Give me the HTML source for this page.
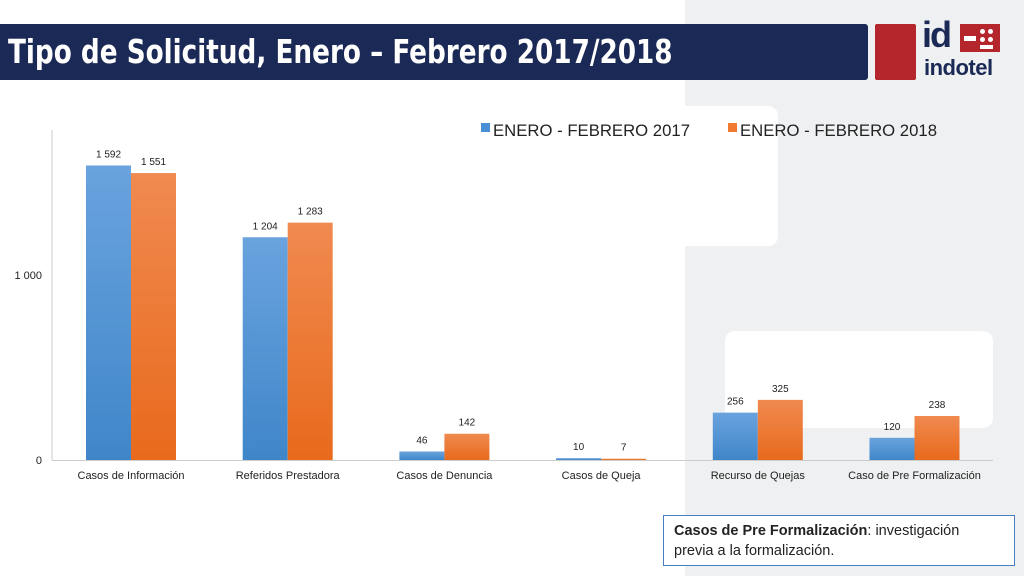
<!DOCTYPE html>
<html><head><meta charset="utf-8"><style>
body{margin:0;width:1024px;height:576px;overflow:hidden;background:#fff;font-family:"Liberation Sans","DejaVu Sans",sans-serif;position:relative}
.abs{position:absolute}
</style></head><body>
<div class="abs" style="left:685px;top:0;width:339px;height:576px;background:#eff0f1"></div>
<div class="abs" style="left:560px;top:106px;width:218px;height:140px;background:#fff;border-radius:10px"></div>
<div class="abs" style="left:725px;top:331px;width:268px;height:97px;background:#fff;border-radius:10px"></div>
<div class="abs" style="left:0px;top:106px;width:685px;height:470px;background:#fff"></div>
<div class="abs" style="left:0;top:24px;width:868px;height:56px;background:#1b2956;border-radius:0 3px 3px 0"></div>
<div class="abs" style="left:8px;top:32px;color:#fff;font-size:33px;font-weight:bold;font-family:'DejaVu Sans Condensed','Liberation Sans',sans-serif;transform:scaleX(0.885);transform-origin:0 0;white-space:nowrap">Tipo de Solicitud, Enero – Febrero 2017/2018</div>
<div class="abs" style="left:875px;top:24px;width:41px;height:56px;background:#b5252c;border-radius:2px"></div>
<div class="abs" style="left:922px;top:14px;color:#1b2956;font-size:36px;font-weight:bold;letter-spacing:-2px">id</div>
<div class="abs" style="left:960px;top:24px;width:40px;height:28px;background:#b5252c">
<div style="position:absolute;left:4px;top:12px;width:12px;height:5px;background:#fff"></div>
<div style="position:absolute;left:20px;top:5px;width:5px;height:5px;background:#fff;border-radius:50%"></div>
<div style="position:absolute;left:28px;top:5px;width:5px;height:5px;background:#fff;border-radius:50%"></div>
<div style="position:absolute;left:20px;top:13px;width:5px;height:5px;background:#fff;border-radius:50%"></div>
<div style="position:absolute;left:28px;top:13px;width:5px;height:5px;background:#fff;border-radius:50%"></div>
<div style="position:absolute;left:20px;top:21px;width:13px;height:4px;background:#fff"></div>
</div>
<div class="abs" style="left:924px;top:55px;color:#1b2956;font-size:22px;font-weight:bold;letter-spacing:-0.5px">indotel</div>
<svg class="abs" style="left:0;top:0" width="1024" height="576" id="chart"></svg>
<div class="abs" style="left:663px;top:515px;width:352px;height:51px;border:1px solid #4a7ec3;background:#fff;box-sizing:border-box;padding:5px 10px;font-size:14.5px;line-height:20px;color:#222;white-space:nowrap"><b>Casos de Pre Formalización</b>: investigación<br>previa a la formalización.</div>
<script>
const categories=["Casos de Información","Referidos Prestadora","Casos de Denuncia","Casos de Queja","Recurso de Quejas","Caso de Pre Formalización"];
const series2017=[1592,1204,46,10,256,120];
const series2018=[1551,1283,142,7,325,238];
const labels2017=["1 592","1 204","46","10","256","120"];
const labels2018=["1 551","1 283","142","7","325","238"];
const yTicks=[0,1000];
const yTickLabels=["0","1 000"];
const svg=document.getElementById('chart');const NS='http://www.w3.org/2000/svg';
function y(v){return 460-v*0.185}
function x(i){return 131+i*156.7}
function mk(t,a){const e=document.createElementNS(NS,t);for(const k in a)e.setAttribute(k,a[k]);svg.appendChild(e);return e}
const defs=mk('defs',{});
defs.innerHTML='<linearGradient id="gb" x1="0" y1="0" x2="0" y2="1"><stop offset="0" stop-color="#6aa3de"/><stop offset="1" stop-color="#3f86c9"/></linearGradient><linearGradient id="go" x1="0" y1="0" x2="0" y2="1"><stop offset="0" stop-color="#f08a50"/><stop offset="1" stop-color="#e86a1c"/></linearGradient>';
let ax=mk('line',{x1:52,y1:130,x2:52,y2:460,stroke:'#ccc'});

let bx=mk('line',{x1:52,y1:460.5,x2:993,y2:460.5,stroke:'#ccc'});

yTicks.forEach((t,i)=>{const e=mk('text',{x:42,y:y(t)+4,'text-anchor':'end','font-size':11,fill:'#222'});e.textContent=yTickLabels[i];
});
categories.forEach((c,i)=>{
 const cx=x(i);
 const b=mk('rect',{x:cx-45,y:y(series2017[i]),width:45,height:series2017[i]*0.185,fill:'url(#gb)'});
 
 const o=mk('rect',{x:cx,y:y(series2018[i]),width:45,height:series2018[i]*0.185,fill:'url(#go)'});
 
 const l1=mk('text',{x:cx-22.5,y:y(series2017[i])-8,'text-anchor':'middle','font-size':10,fill:'#222'});l1.textContent=labels2017[i];
 
 const l2=mk('text',{x:cx+22.5,y:y(series2018[i])-8,'text-anchor':'middle','font-size':10,fill:'#222'});l2.textContent=labels2018[i];
 
 const ct=mk('text',{x:cx,y:479,'text-anchor':'middle','font-size':11,fill:'#222'});ct.textContent=c;
 
});
const lg=[["ENERO - FEBRERO 2017",'#4a8fd6',481],["ENERO - FEBRERO 2018",'#f07a30',728]];
lg.forEach(l=>{const r=mk('rect',{x:l[2],y:123,width:9,height:9,fill:l[1]});

const t=mk('text',{x:l[2]+12,y:136,'font-size':17,fill:'#222','textLength':197,'lengthAdjust':'spacingAndGlyphs'});t.textContent=l[0];
});
</script>
</body></html>
